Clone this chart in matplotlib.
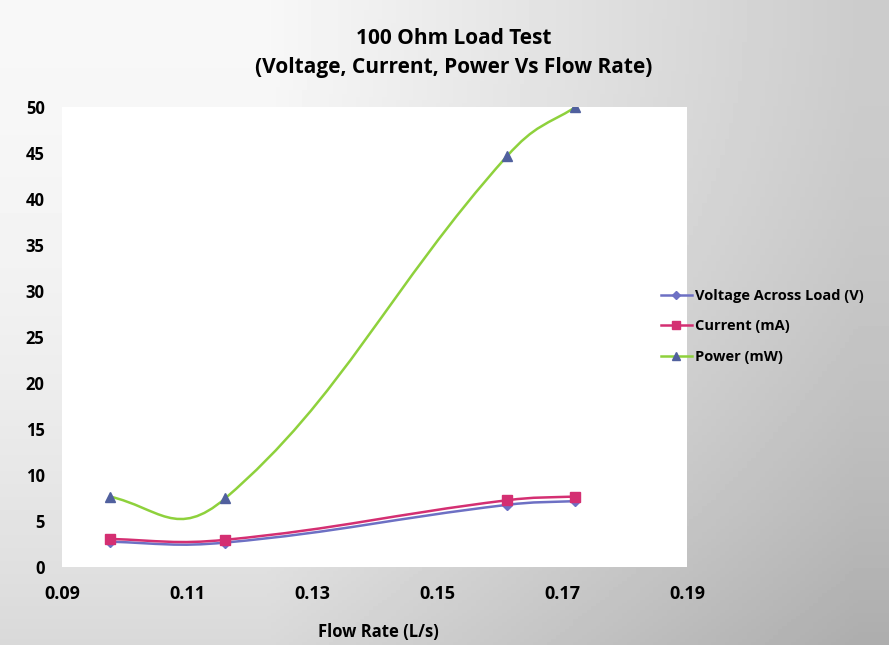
import numpy as np
import matplotlib.pyplot as plt
from matplotlib.path import Path
from matplotlib.patches import PathPatch
from matplotlib.lines import Line2D

# dados
flow = [0.0977, 0.1161, 0.1612, 0.1721]
voltage = [2.7, 2.6, 6.7, 7.1]
current = [3.0, 2.9, 7.2, 7.6]
power = [7.6, 7.4, 44.6, 49.9]

x_ticks = [0.09, 0.11, 0.13, 0.15, 0.17, 0.19]
y_ticks = [0, 5, 10, 15, 20, 25, 30, 35, 40, 45, 50]

plt.rcParams['font.family'] = ['Open Sans', 'DejaVu Sans']
plt.rcParams['font.weight'] = 'bold'


def smooth_path(xs, ys, k=0.42):
    # curva suave (Bezier cubica, tangentes tipo Catmull-Rom)
    xs = np.asarray(xs, float)
    ys = np.asarray(ys, float)
    n = len(xs)
    slope = np.zeros(n)
    for i in range(1, n - 1):
        slope[i] = (ys[i + 1] - ys[i - 1]) / (xs[i + 1] - xs[i - 1])
    # pontas
    s0 = (ys[1] - ys[0]) / (xs[1] - xs[0])
    s1 = (ys[-1] - ys[-2]) / (xs[-1] - xs[-2])
    slope[0] = s0 - 0.25 * (slope[1] - s0)
    slope[-1] = s1 - 0.25 * (slope[-2] - s1)
    verts = [(xs[0], ys[0])]
    codes = [Path.MOVETO]
    for i in range(n - 1):
        dx = xs[i + 1] - xs[i]
        c1 = (xs[i] + k * dx, ys[i] + k * dx * slope[i])
        c2 = (xs[i + 1] - k * dx, ys[i + 1] - k * dx * slope[i + 1])
        verts += [c1, c2, (xs[i + 1], ys[i + 1])]
        codes += [Path.CURVE4] * 3
    return Path(verts, codes)


fig = plt.figure(figsize=(8.89, 6.45), dpi=100)

# fundo cinza (foto da folha impressa)
bg = fig.add_axes([0, 0, 1, 1], zorder=-10)
gx = np.linspace(0, 1, 200)
gy = np.linspace(0, 1, 200)
GX, GY = np.meshgrid(gx, gy)
shade = 0.97 - 0.17 * np.clip((GX - 0.3) * 1.5, 0, 1) - 0.12 * (1 - GY) * (1 - GY)
bg.imshow(shade, cmap='gray', vmin=0, vmax=1, aspect='auto',
          extent=[0, 1, 0, 1], origin='lower')
bg.axis('off')

ax = fig.add_axes([62 / 889, 1 - 566.5 / 645, 625 / 889, 460 / 645])
ax.set_facecolor('white')

series = [
    (voltage, '#6d70c4', 'D', '#6d70c4', 'Voltage Across Load (V)', 5),
    (current, '#d42f72', 's', '#d42f72', 'Current (mA)', 7),
    (power, '#8ed13c', '^', '#50609e', 'Power (mW)', 6.5),
]

handles = []
for ys, col, mk, mcol, lab, ms in series:
    patch = PathPatch(smooth_path(flow, ys), facecolor='none', edgecolor=col,
                      lw=1.8, transform=ax.transData, zorder=2)
    ax.add_patch(patch)
    ax.plot(flow, ys, linestyle='none', marker=mk, color=mcol, ms=ms, zorder=3)
    handles.append(Line2D([], [], color=col, lw=1.8, marker=mk,
                          markerfacecolor=mcol, markeredgecolor=mcol, ms=ms - 1))

ax.set_xlim(0.09, 0.19)
ax.set_ylim(0, 50)
ax.set_xticks(x_ticks)
ax.set_xticklabels(['{:.2f}'.format(v) for v in x_ticks])
ax.set_yticks(y_ticks)
for s in ax.spines.values():
    s.set_visible(False)
ax.tick_params(axis='x', length=0, labelsize=13, pad=13)
ax.tick_params(axis='y', length=0, labelsize=12, pad=12.5)

ax.set_xlabel('Flow Rate (L/s)', fontsize=12, fontweight='bold')
ax.xaxis.set_label_coords((378 - 62) / 625, -(632 - 566.5) / 460)
ax.xaxis.label.set_va('center')

fig.text(454 / 889, 1 - 38 / 645, '100 Ohm Load Test', ha='center', va='center',
         fontsize=15, fontweight='bold')
fig.text(454 / 889, 1 - 67 / 645, '(Voltage, Current, Power Vs Flow Rate)',
         ha='center', va='center', fontsize=15, fontweight='bold')

fig.legend(handles, [s[4] for s in series], loc='upper left',
           bbox_to_anchor=(661 / 889, 1 - 289 / 645), frameon=False,
           fontsize=10.5, borderpad=0, borderaxespad=0,
           handlelength=2.1, handletextpad=0.2, labelspacing=1.12)

fig.savefig('out.png', dpi=100)
